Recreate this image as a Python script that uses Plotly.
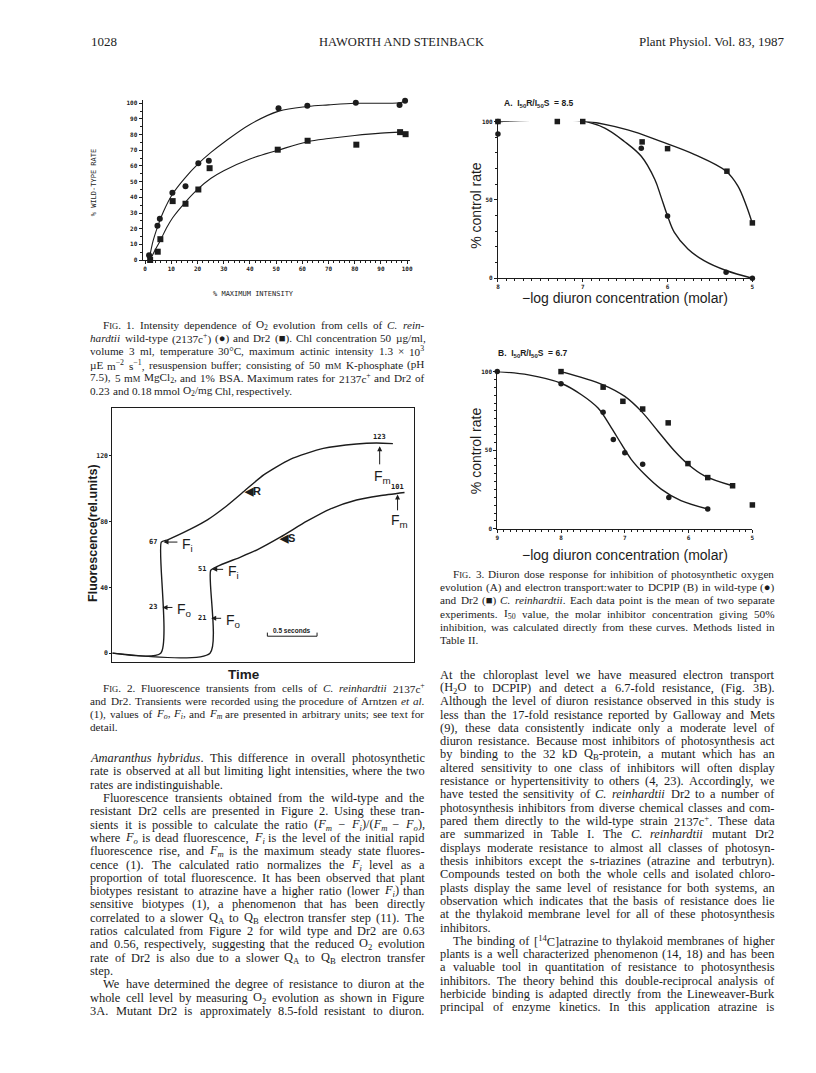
import re
import plotly.graph_objects as go

W, H = 816, 1073

# ---- Fig. 1: % wild-type rate vs % maximum intensity
f1_wt_x = [1.5, 4.7, 5.6, 10.4, 15.4, 20.3, 24.3, 50.9, 61.9, 80.4, 97.1, 99.2]
f1_wt_y = [3, 21.8, 26.4, 42.9, 47.1, 61.7, 63.4, 96.8, 98.5, 100.4, 98.9, 101.7]
f1_dr_x = [1.9, 4.8, 5.8, 10.5, 15.4, 20.3, 24.6, 50.6, 62.0, 80.6, 97.3, 99.4]
f1_dr_y = [0, 5.3, 13.3, 37.6, 35.9, 45.0, 58.6, 70.4, 76.1, 73.6, 81.6, 80.3]
# fitted curves as drawn
f1_wt_fit_x = [1.5, 3, 4.7, 7, 10.4, 15, 20.3, 25, 30, 40, 51, 62, 70, 80, 90, 97, 99.2]
f1_wt_fit_y = [0, 12, 21, 31, 42, 52, 61.5, 68.5, 75, 86.5, 95, 98, 99, 100, 100, 100.3, 101.5]
f1_dr_fit_x = [1.9, 4, 5.8, 8, 10.5, 15.4, 20.3, 25, 30, 40, 50.6, 62, 70, 80, 90, 97.3]
f1_dr_fit_y = [0, 7, 12.5, 20, 27, 37, 45.5, 52, 57, 64.5, 70, 75.5, 77.5, 79.5, 81, 81.6]

# ---- Fig. 2: fluorescence transients (time in s, rel. units)
f2_r_t = [0, 0.487, 0.493, 0.557, 0.79, 0.957, 1.123, 1.323, 1.523, 1.79, 2.123, 2.457, 2.657, 2.823]
f2_r_f = [0, 0, 67.6, 69.0, 75.6, 81.1, 88.3, 98.4, 108.5, 118.0, 124.6, 127.3, 127.9, 127.5]
f2_s_t = [0, 0.983, 0.99, 1.057, 1.29, 1.457, 1.69, 1.957, 2.19, 2.457, 2.69, 2.94]
f2_s_f = [0, 0, 50.4, 52.8, 58.5, 62.9, 70.6, 80.3, 87.7, 93.2, 95.8, 97.8]
f2_scale_bar = [1.56, 2.06]

# ---- Fig. 3A: O2 evolution, -log diuron (M) vs % control
f3a_wt_x = [8, 8, 7.31, 7.0, 6.31, 6.0, 5.31, 5.0]
f3a_wt_y = [100, 92, 100.6, 100.4, 83, 39.7, 3.8, 0]
f3a_dr_x = [8, 7.3, 7.0, 6.3, 6.0, 5.3, 5.0]
f3a_dr_y = [100, 100, 100, 87, 82.7, 68.3, 35.3]
f3a_wt_fit_x = [8, 7.31, 7.01, 6.74, 6.51, 6.31, 6.15, 6.08, 6.0, 5.92, 5.76, 5.57, 5.31, 5.0]
f3a_wt_fit_y = [100, 101.1, 100.4, 95.8, 87.3, 77.8, 63, 52.4, 39.7, 29.2, 18.6, 11.2, 4.9, 0]
f3a_dr_fit_x = [8, 7.01, 6.47, 6.08, 5.68, 5.31, 5.17, 5.07, 5.0]
f3a_dr_fit_y = [100, 100.4, 94.7, 87.3, 78.9, 68.3, 58.8, 46.1, 34.9]

# ---- Fig. 3B: electron transport
f3b_wt_x = [9, 8.0, 7.34, 7.18, 7.0, 6.72, 6.31, 5.70]
f3b_wt_y = [100, 92.2, 74.1, 56.8, 48.4, 41.1, 20.0, 12.6]
f3b_dr_x = [8, 7.34, 7.03, 6.72, 6.32, 6.01, 5.70, 5.31, 5.0]
f3b_dr_y = [100, 90.1, 81.1, 76.2, 67.4, 41.5, 32.6, 27.4, 15.2]
f3b_wt_fit_x = [9, 8.51, 8.0, 7.68, 7.42, 7.21, 7.05, 6.90, 6.69, 6.43, 6.12, 5.70]
f3b_wt_fit_y = [100, 97.9, 92.6, 85.3, 76.8, 64.2, 53.7, 44.2, 34.7, 25.3, 17.9, 12.6]
f3b_dr_fit_x = [8, 7.34, 7.0, 6.74, 6.48, 6.22, 6.01, 5.75, 5.31]
f3b_dr_fit_y = [100, 91.6, 84.2, 74.7, 62.1, 49.5, 41.1, 33.7, 27.4]

SC = "<span style='font-size:8.5px'>IG</span>"
SM = "<span style='font-size:8.5px'>M</span>"

header = ["1028", "HAWORTH AND STEINBACK", "Plant Physiol. Vol. 83, 1987"]

cap1 = [
    "F" + SC + ". 1. Intensity dependence of O<sub>2</sub> evolution from cells of <i>C. rein-</i>",
    "<i>hardtii</i> wild-type (2137c<sup>+</sup>) (●) and Dr2 (■). Chl concentration 50 µg/ml,",
    "volume 3 ml, temperature 30°C, maximum actinic intensity 1.3 × 10<sup>3</sup>",
    "µE m<sup>−2</sup> s<sup>−1</sup>, resuspension buffer; consisting of 50 m" + SM + " K-phosphate (pH",
    "7.5), 5 m" + SM + " MgCl<sub>2</sub>, and 1% BSA. Maximum rates for 2137c<sup>+</sup> and Dr2 of",
    "0.23 and 0.18 mmol O<sub>2</sub>/mg Chl, respectively.",
]
cap2 = [
    "F" + SC + ". 2. Fluorescence transients from cells of <i>C. reinhardtii</i> 2137c<sup>+</sup>",
    "and Dr2. Transients were recorded using the procedure of Arntzen <i>et al.</i>",
    "(1), values of <i>F<sub>o</sub></i>, <i>F<sub>i</sub></i>, and <i>F<sub>m</sub></i> are presented in arbitrary units; see text for",
    "detail.",
]
cap3 = [
    "F" + SC + ". 3. Diuron dose response for inhibition of photosynthetic oxygen",
    "evolution (A) and electron transport:water to DCPIP (B) in wild-type (●)",
    "and Dr2 (■) <i>C. reinhardtii</i>. Each data point is the mean of two separate",
    "experiments. I<sub>50</sub> value, the molar inhibitor concentration giving 50%",
    "inhibition, was calculated directly from these curves. Methods listed in",
    "Table II.",
]
body_left = [
    "<i>Amaranthus hybridus</i>. This difference in overall photosynthetic",
    "rate is observed at all but limiting light intensities, where the two",
    "rates are indistinguishable.",
    "   Fluorescence transients obtained from the wild-type and the",
    "resistant Dr2 cells are presented in Figure 2. Using these tran-",
    "sients it is possible to calculate the ratio (<i>F<sub>m</sub></i> − <i>F<sub>i</sub></i>)/(<i>F<sub>m</sub></i> − <i>F<sub>o</sub></i>),",
    "where <i>F<sub>o</sub></i> is dead fluorescence, <i>F<sub>i</sub></i> is the level of the initial rapid",
    "fluorescence rise, and <i>F<sub>m</sub></i> is the maximum steady state fluores-",
    "cence (1). The calculated ratio normalizes the <i>F<sub>i</sub></i> level as a",
    "proportion of total fluorescence. It has been observed that plant",
    "biotypes resistant to atrazine have a higher ratio (lower <i>F<sub>i</sub></i>) than",
    "sensitive biotypes (1), a phenomenon that has been directly",
    "correlated to a slower Q<sub>A</sub> to Q<sub>B</sub> electron transfer step (11). The",
    "ratios calculated from Figure 2 for wild type and Dr2 are 0.63",
    "and 0.56, respectively, suggesting that the reduced O<sub>2</sub> evolution",
    "rate of Dr2 is also due to a slower Q<sub>A</sub> to Q<sub>B</sub> electron transfer",
    "step.",
    "   We have determined the degree of resistance to diuron at the",
    "whole cell level by measuring O<sub>2</sub> evolution as shown in Figure",
    "3A. Mutant Dr2 is approximately 8.5-fold resistant to diuron.",
]
body_right = [
    "At the chloroplast level we have measured electron transport",
    "(H<sub>2</sub>O to DCPIP) and detect a 6.7-fold resistance, (Fig. 3B).",
    "Although the level of diuron resistance observed in this study is",
    "less than the 17-fold resistance reported by Galloway and Mets",
    "(9), these data consistently indicate only a moderate level of",
    "diuron resistance. Because most inhibitors of photosynthesis act",
    "by binding to the 32 kD Q<sub>B</sub>-protein, a mutant which has an",
    "altered sensitivity to one class of inhibitors will often display",
    "resistance or hypertensitivity to others (4, 23). Accordingly, we",
    "have tested the sensitivity of <i>C. reinhardtii</i> Dr2 to a number of",
    "photosynthesis inhibitors from diverse chemical classes and com-",
    "pared them directly to the wild-type strain 2137c<sup>+</sup>. These data",
    "are summarized in Table I. The <i>C. reinhardtii</i> mutant Dr2",
    "displays moderate resistance to almost all classes of photosyn-",
    "thesis inhibitors except the s-triazines (atrazine and terbutryn).",
    "Compounds tested on both the whole cells and isolated chloro-",
    "plasts display the same level of resistance for both systems, an",
    "observation which indicates that the basis of resistance does lie",
    "at the thylakoid membrane level for all of these photosynthesis",
    "inhibitors.",
    "   The binding of [<sup>14</sup>C]atrazine to thylakoid membranes of higher",
    "plants is a well characterized phenomenon (14, 18) and has been",
    "a valuable tool in quantitation of resistance to photosynthesis",
    "inhibitors. The theory behind this double-reciprocal analysis of",
    "herbicide binding is adapted directly from the Lineweaver-Burk",
    "principal of enzyme kinetics. In this application atrazine is",
]

INK = "#1c1c1c"
SERIF = "Liberation Serif"
SANS = "Liberation Sans"
MONO = "DejaVu Sans Mono"

# Times / Liberation Serif advance widths (1/1000 em), used to justify lines
ROMAN = {" ": 250, "%": 833, "(": 333, ")": 333, ",": 250, "-": 333, ".": 250, "/": 278, ":": 278,
         ";": 278, "[": 333, "]": 333, "+": 564, "−": 564, "×": 564, "°": 400, "µ": 500, "●": 600, "■": 600}
ROMAN.update({c: 500 for c in "0123456789"})
ROMAN.update(dict(zip("ABCDEFGHIJKLMNOPQRSTUVWXYZ",
                      [722, 667, 667, 722, 611, 556, 722, 722, 333, 389, 722, 611, 889, 722, 722, 556, 722, 667,
                       556, 611, 722, 722, 944, 722, 722, 611])))
ROMAN.update(dict(zip("abcdefghijklmnopqrstuvwxyz",
                      [444, 500, 444, 500, 444, 333, 500, 500, 278, 278, 500, 278, 778, 500, 500, 500, 500, 333,
                       389, 278, 500, 500, 722, 500, 500, 444])))
ITAL = dict(ROMAN)
ITAL.update(dict(zip("ABCDEFGHIJKLMNOPQRSTUVWXYZ",
                     [611, 611, 667, 722, 611, 611, 722, 722, 333, 444, 667, 556, 833, 667, 722, 611, 722, 611,
                      500, 556, 722, 611, 833, 611, 556, 556])))
ITAL.update(dict(zip("abcdefghijklmnopqrstuvwxyz",
                     [500, 500, 444, 500, 444, 278, 500, 500, 278, 278, 444, 278, 722, 500, 500, 500, 500, 389,
                      389, 278, 500, 444, 667, 444, 444, 389])))

ann = []


def text(x, y, s, size=12, family=SERIF, anchor="left", weight="normal", angle=0):
    ann.append(dict(x=x / W, y=1 - y / H, xref="paper", yref="paper", text=s, showarrow=False,
                    xanchor=anchor, yanchor="middle", textangle=angle,
                    font=dict(family=family, size=size, color=INK, weight=weight)))


def split_words(line):
    words, cur, stack = [], "", []
    for tok in re.split(r"(<[^>]+>)", line):
        if tok.startswith("<"):
            if tok.startswith("</"):
                stack.pop()
            else:
                stack.append(tok)
            cur += tok
            continue
        for j, part in enumerate(tok.split(" ")):
            if j > 0:
                closing = "".join("</" + re.match(r"<(\w+)", t).group(1) + ">" for t in reversed(stack))
                words.append(cur + closing)
                cur = "".join(stack)
            cur += part
    words.append(cur)
    return [w for w in words if re.sub(r"<[^>]+>", "", w)]


def word_w(w, size):
    ital, scale, total = 0, [1.0], 0.0
    for tok in re.split(r"(<[^>]+>)", w):
        if tok.startswith("<"):
            name = re.match(r"</?(\w+)", tok).group(1)
            closing = tok.startswith("</")
            if name == "i":
                ital += -1 if closing else 1
            elif name in ("sub", "sup"):
                scale.pop() if closing else scale.append(0.7)
            elif name == "span":
                if closing:
                    scale.pop()
                else:
                    m = re.search(r"font-size:([\d.]+)px", tok)
                    scale.append(float(m.group(1)) / size if m else 1.0)
        else:
            tbl = ITAL if ital > 0 else ROMAN
            for ch in tok:
                total += tbl.get(ch, 500) * scale[-1]
    return total / 1000 * size


def block(lines, x0, x1, y0, step, size, first_indent=0, last_ragged=True):
    for i, s in enumerate(lines):
        x = x0 + (first_indent if i == 0 else 0)
        if s.startswith("   "):
            s = s.strip()
            x += 13
        nxt = lines[i + 1] if i + 1 < len(lines) else None
        ragged = (nxt is None and last_ragged) or (nxt is not None and nxt.startswith("   "))
        words = split_words(s)
        widths = [word_w(w, size) for w in words]
        gap = 0.25 * size
        if not ragged and len(words) > 1:
            gap = (x1 - x - sum(widths)) / (len(words) - 1)
        y = y0 + i * step
        for w, wd in zip(words, widths):
            text(x, y, w, size=size)
            x += wd + gap


def dtext(x, y, s, size=7, family=MONO, anchor="center", weight="bold"):
    ann.append(dict(x=x, y=y, xref="x2", yref="y2", text=s, showarrow=False,
                    xanchor=anchor, yanchor="middle",
                    font=dict(family=family, size=size, color=INK, weight=weight)))


def darrow(x, y, ax, ay):
    ann.append(dict(x=x, y=y, ax=ax, ay=ay, xref="x2", yref="y2", axref="x2", ayref="y2",
                    text="", showarrow=True, arrowhead=2, arrowsize=1, arrowwidth=1, arrowcolor=INK))


fig = go.Figure()

pt = dict(color=INK, size=6)
ln = dict(color=INK, width=1.1)

# Fig. 1
fig.add_trace(go.Scatter(x=f1_wt_fit_x, y=f1_wt_fit_y, mode="lines", line=dict(**ln, shape="spline"),
                         xaxis="x", yaxis="y"))
fig.add_trace(go.Scatter(x=f1_dr_fit_x, y=f1_dr_fit_y, mode="lines", line=dict(**ln, shape="spline"),
                         xaxis="x", yaxis="y"))
fig.add_trace(go.Scatter(x=f1_wt_x, y=f1_wt_y, mode="markers", marker=dict(**pt, symbol="circle"),
                         xaxis="x", yaxis="y", cliponaxis=False))
fig.add_trace(go.Scatter(x=f1_dr_x, y=f1_dr_y, mode="markers", marker=dict(**pt, symbol="square"),
                         xaxis="x", yaxis="y", cliponaxis=False))

# Fig. 2
fig.add_trace(go.Scatter(x=f2_r_t, y=f2_r_f, mode="lines",
                         line=dict(color=INK, width=1.4, shape="spline", smoothing=0.6), xaxis="x2", yaxis="y2"))
fig.add_trace(go.Scatter(x=f2_s_t, y=f2_s_f, mode="lines",
                         line=dict(color=INK, width=1.4, shape="spline", smoothing=0.6), xaxis="x2", yaxis="y2"))
fig.add_trace(go.Scatter(x=[f2_scale_bar[0], f2_scale_bar[0], f2_scale_bar[1], f2_scale_bar[1]],
                         y=[12.5, 10.3, 10.3, 12.5], mode="lines", line=dict(color=INK, width=1),
                         xaxis="x2", yaxis="y2"))

# Fig. 3A / 3B
for xs, ys, ax_x, ax_y in [(f3a_wt_fit_x, f3a_wt_fit_y, "x3", "y3"), (f3a_dr_fit_x, f3a_dr_fit_y, "x3", "y3"),
                           (f3b_wt_fit_x, f3b_wt_fit_y, "x4", "y4"), (f3b_dr_fit_x, f3b_dr_fit_y, "x4", "y4")]:
    fig.add_trace(go.Scatter(x=xs, y=ys, mode="lines", line=dict(color=INK, width=1.4, shape="spline"),
                             xaxis=ax_x, yaxis=ax_y, cliponaxis=False))
for xs, ys, sym, ax_x, ax_y in [(f3a_wt_x, f3a_wt_y, "circle", "x3", "y3"), (f3a_dr_x, f3a_dr_y, "square", "x3", "y3"),
                                (f3b_wt_x, f3b_wt_y, "circle", "x4", "y4"), (f3b_dr_x, f3b_dr_y, "square", "x4", "y4")]:
    fig.add_trace(go.Scatter(x=xs, y=ys, mode="markers", marker=dict(color=INK, size=5.5, symbol=sym),
                             xaxis=ax_x, yaxis=ax_y, cliponaxis=False))


def dom_x(a, b):
    return [a / W, b / W]


def dom_y(top, bottom):
    return [1 - bottom / H, 1 - top / H]


base = dict(showline=True, linecolor=INK, linewidth=1, showgrid=False, zeroline=False,
            ticks="outside", ticklen=3, tickcolor=INK, tickwidth=1,
            tickfont=dict(family=MONO, size=6, color=INK, weight="bold"))

fig.update_layout(
    width=W, height=H, margin=dict(l=0, r=0, t=0, b=0),
    paper_bgcolor="white", plot_bgcolor="rgba(0,0,0,0)", showlegend=False,
    xaxis=dict(base, domain=dom_x(141.4, 410.3), range=[-1, 101], anchor="y",
               tickvals=list(range(0, 101, 10)), minor=dict(dtick=2, ticklen=2, tickcolor=INK)),
    yaxis=dict(base, domain=dom_y(96.8, 257.7), range=[0, 102], anchor="x",
               tickvals=list(range(0, 101, 10)), minor=dict(dtick=5, ticklen=2, tickcolor=INK)),
    xaxis2=dict(base, domain=dom_x(111, 415), range=[0, 3.04], anchor="y2", mirror=True,
                ticks="", showticklabels=False),
    yaxis2=dict(base, domain=dom_y(407, 662), range=[-5.2, 149], anchor="x2", mirror=True, ticklen=2,
                tickvals=[0, 40, 80, 120], tickfont=dict(family=MONO, size=6.5, color=INK, weight="bold")),
    xaxis3=dict(base, domain=dom_x(499, 755), range=[8, 5], anchor="y3",
                tickvals=[8, 7, 6, 5], minor=dict(dtick=0.1, ticklen=2, tickcolor=INK)),
    yaxis3=dict(base, domain=dom_y(118.3, 276), range=[0, 100], anchor="x3",
                tickvals=[0, 50, 100], minor=dict(dtick=10, ticklen=2, tickcolor=INK)),
    xaxis4=dict(base, domain=dom_x(498.3, 755), range=[9, 5], anchor="y4",
                tickvals=[9, 8, 7, 6, 5], minor=dict(dtick=0.1, ticklen=2, tickcolor=INK)),
    yaxis4=dict(base, domain=dom_y(370, 528.3), range=[0, 100], anchor="x4",
                tickvals=[0, 50, 100], minor=dict(dtick=5, ticklen=2, tickcolor=INK)),
)

# page header
text(88, 38, header[0], size=13)
text(402, 38, header[1], size=12.5, anchor="center")
text(790, 38, header[2], size=13, anchor="right")

# Fig. 1 labels
text(92, 180, "% WILD-TYPE RATE", size=7, family=MONO, anchor="center", angle=-90)
text(253, 292, "% MAXIMUM INTENSITY", size=7, family=MONO, anchor="center")

# Fig. 2 labels
text(91, 532, "Fluorescence(rel.units)", size=12.5, family=SANS, anchor="center", weight="bold", angle=-90)
text(243, 675, "Time", size=13.5, family=SANS, anchor="center", weight="bold")
dtext(0.47, 67.6, "67", anchor="right")
darrow(0.515, 67.6, 0.67, 67.6)
dtext(0.68, 66.0, "F<sub>i</sub>", size=14, family=SANS, anchor="left", weight="normal")
dtext(0.47, 27.8, "23", anchor="right")
darrow(0.505, 27.8, 0.62, 27.8)
dtext(0.63, 26.5, "F<sub>o</sub>", size=14, family=SANS, anchor="left", weight="normal")
dtext(0.965, 51.5, "51", anchor="right")
darrow(1.005, 51.0, 1.13, 51.0)
dtext(1.14, 49.5, "F<sub>i</sub>", size=14, family=SANS, anchor="left", weight="normal")
dtext(0.965, 21.2, "21", anchor="right")
darrow(0.995, 21.2, 1.11, 21.2)
dtext(1.12, 19.8, "F<sub>o</sub>", size=14, family=SANS, anchor="left", weight="normal")
dtext(1.30, 98.4, "◀R", size=11, family=SANS, anchor="left")
dtext(1.66, 70.0, "◀S", size=11, family=SANS, anchor="left")
dtext(2.69, 131.5, "123")
darrow(2.69, 126.0, 2.69, 114.0)
dtext(2.72, 107.5, "F<sub>m</sub>", size=14, family=SANS, weight="normal")
dtext(2.87, 101.0, "101")
darrow(2.87, 96.5, 2.87, 86.0)
dtext(2.89, 80.5, "F<sub>m</sub>", size=14, family=SANS, weight="normal")
dtext(1.81, 13.8, "0.5 seconds", size=6.5, family=SANS)

# Fig. 3 labels
text(503, 100, "A.  I<sub>50</sub>R/I<sub>50</sub>S  = 8.5", size=8.5, family=SANS, weight="bold")
text(497, 352, "B.  I<sub>50</sub>R/I<sub>50</sub>S  = 6.7", size=8.5, family=SANS, weight="bold")
text(477, 203, "% control rate", size=14, family=SANS, anchor="center", angle=-90)
text(477, 450, "% control rate", size=14, family=SANS, anchor="center", angle=-90)
text(627, 296, "−log diuron concentration (molar)", size=14, family=SANS, anchor="center")
text(627, 555, "−log diuron concentration (molar)", size=14, family=SANS, anchor="center")

# captions and body text, justified to the column edges
LX0, LX1 = 87, 423
RX0, RX1 = 439, 775
block(cap1, LX0, LX1, 323, 13.3, 11.2, first_indent=13)
block(cap2, LX0, LX1, 688, 13.4, 11.2, first_indent=13)
block(cap3, RX0, RX1, 574, 13.2, 11.2, first_indent=13)
block(body_left, LX0, LX1, 759, 13.4, 12.4, last_ragged=False)
block(body_right, RX0, RX1, 675, 13.4, 12.4, last_ragged=False)

fig.update_layout(annotations=ann)
fig.write_html("out.html", config={"displayModeBar": False},
               post_script="document.body.style.margin='0px';")
